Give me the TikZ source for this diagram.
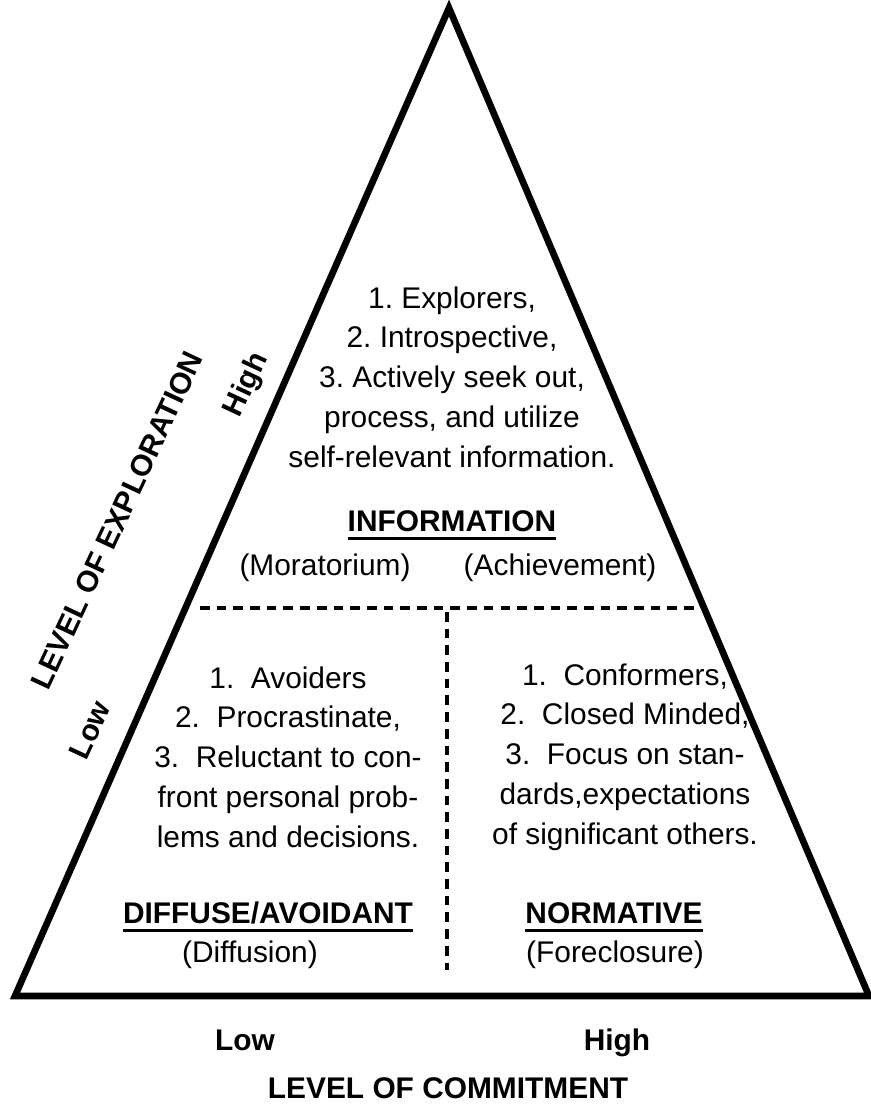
\documentclass[tikz,border=0pt]{standalone}
\usepackage{fontspec}
\setmainfont{Liberation Sans}
\usetikzlibrary{positioning}
\newcommand{\undl}[1]{\setbox0\hbox{#1}\leavevmode\rlap{\vrule width\wd0 height -2.6pt depth 4.3pt}\box0}
\frenchspacing

\begin{document}
\begin{tikzpicture}[font=\fontsize{17}{22.6}\selectfont,
    txt/.style={align=center, inner sep=0pt},
    head/.style={font=\fontsize{17}{22.6}\selectfont\bfseries, inner sep=0pt},
    divider/.style={line width=2.2pt, dash pattern=on 5.5pt off 4pt}]
  \useasboundingbox (0,0) rectangle (17.4,22.08);
  \coordinate (top) at (8.98,21.92);
  \coordinate (bl) at (0.30,2.16);
  \coordinate (br) at (17.38,2.16);
  \draw[line width=3.8pt] (top) -- (bl) -- (br) -- cycle;

  % Dividers
  \coordinate (dl) at (4.00,9.92);  \coordinate (dr) at (14.05,9.92);
  \coordinate (dt) at (8.94,9.84);  \coordinate (db) at (8.94,2.68);
  \draw[divider] (dl) -- (dr);
  \draw[divider] (dt) -- (db);

  % Upper part
  \node[txt] (expl) at (9.04,14.54) {1. Explorers,\\2. Introspective,\\3. Actively seek out,\\process, and utilize\\self-relevant information.};
  \node[head, anchor=base] (info) at (9.04,11.44) {\undl{INFORMATION}};
  \node[txt] (mor) at (6.50,10.72) {(Moratorium)};
  \node[txt] (ach) at (11.20,10.72) {(Achievement)};

  % Lower left and right
  \node[txt] (avoid) at (5.76,6.94) {1.\ \ Avoiders\\2.\ \ Procrastinate,\\3.\ \ Reluctant to con-\\front personal prob-\\lems and decisions.};
  \node[head, anchor=base] (diff) at (5.36,3.60) {\undl{DIFFUSE/AVOIDANT}};
  \node[txt] (diffn) at (5.00,2.98) {(Diffusion)};
  \node[txt] (conf) at (12.50,6.94) {1.\ \ Conformers,\\2.\ \ Closed Minded,\\3.\ \ Focus on stan-\\dards,expectations\\of significant others.};
  \node[head, anchor=base] (norm) at (12.28,3.60) {\undl{NORMATIVE}};
  \node[txt] (fore) at (12.30,2.98) {(Foreclosure)};

  % Axes
  \node[head, anchor=base] (clow) at (4.90,1.06) {Low};
  \node[head, anchor=base] (chigh) at (12.34,1.06) {High};
  \node[head, anchor=base] (commit) at (8.96,0.12) {LEVEL OF COMMITMENT};
  \node[head, rotate=65] (explore) at (2.34,11.68) {LEVEL OF EXPLORATION};
  \node[head, rotate=65] (ehigh) at (4.94,14.38) {High};
  \node[head, rotate=65] (elow) at (1.80,7.48) {Low};
\end{tikzpicture}
\end{document}
